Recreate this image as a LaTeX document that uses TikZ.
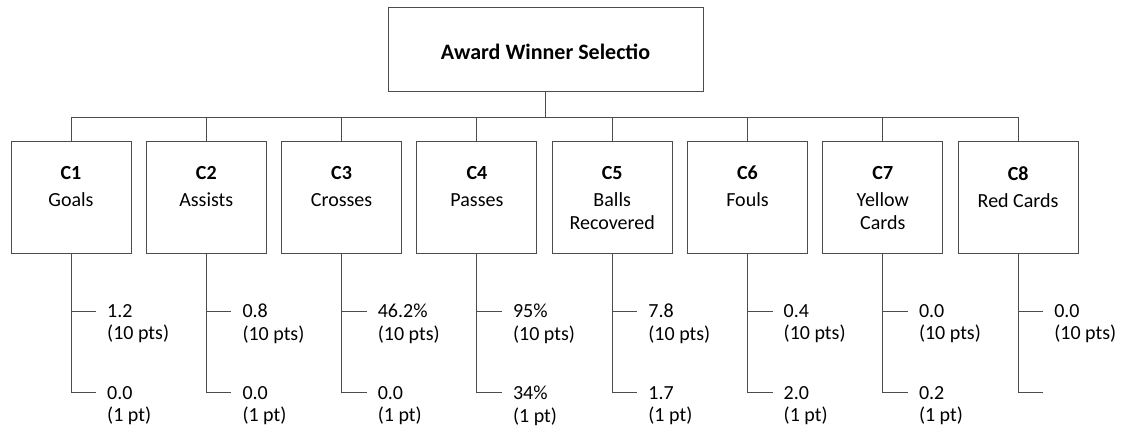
\documentclass[tikz,border=0pt]{standalone}
\usepackage{fontspec}
\setmainfont{Carlito}
\begin{document}
\begin{tikzpicture}[x=1pt,y=-1pt,
  ln/.style={draw=black!70,line width=0.9pt},
  topbox/.style={ln,rectangle,minimum width=315pt,minimum height=84pt,inner sep=0pt,font=\fontsize{22}{25}\selectfont\bfseries},
  cbox/.style={ln,rectangle,minimum width=120pt,minimum height=112pt,inner sep=0pt},
  ctext/.style={anchor=north,inner sep=0pt,align=center,font=\fontsize{20}{23}\selectfont},
  ltext/.style={anchor=north west,inner sep=0pt,align=left,font=\fontsize{20}{22.5}\selectfont}
]
\useasboundingbox (0,0) rectangle (1126,430);
\node[topbox] (top) at (545.5,49) {\raisebox{-10.5pt}[0pt][0pt]{Award Winner Selectio}};
\coordinate (bus) at (545.5,117);
\draw[ln] (top.south) -- (bus);
\foreach \i/\t/\a/\b/\c/\d in {
  1/{Goals}/{1.2}/{(10 pts)}/{0.0}/{(1 pt)},
  2/{Assists}/{0.8}/{(10 pts)}/{0.0}/{(1 pt)},
  3/{Crosses}/{46.2\%}/{(10 pts)}/{0.0}/{(1 pt)},
  4/{Passes}/{95\%}/{(10 pts)}/{34\%}/{(1 pt)},
  5/{Balls\\Recovered}/{7.8}/{(10 pts)}/{1.7}/{(1 pt)},
  6/{Fouls}/{0.4}/{(10 pts)}/{2.0}/{(1 pt)},
  7/{Yellow\\Cards}/{0.0}/{(10 pts)}/{0.2}/{(1 pt)},
  8/{Red Cards}/{0.0}/{(10 pts)}/{}/{}}{
  \pgfmathsetmacro{\cx}{71+135.3*(\i-1)}
  \node[cbox] (c\i) at (\cx,197) {};
  \node[ctext] (t\i) at (\cx,166) {\textbf{C\i}\\[4pt]\t};
  \coordinate (bj\i) at (\cx,117);
  \draw[ln] (bj\i) -- (c\i.north);
  \coordinate (v1\i) at (\cx,311);
  \coordinate (v2\i) at (\cx,392);
  \coordinate (h1\i) at (\cx+25,311);
  \coordinate (h2\i) at (\cx+25,392);
  \draw[ln] (c\i.south) -- (v2\i) -- (h2\i);
  \draw[ln] (v1\i) -- (h1\i);
  \node[ltext] (la\i) at (\cx+36,304) {\a\\\b};
  \ifx\c\empty\else
  \node[ltext] (lb\i) at (\cx+36,386) {\c\\\d};
  \fi
}
\draw[ln] (bj1) -- (bj8);
\end{tikzpicture}
\end{document}
